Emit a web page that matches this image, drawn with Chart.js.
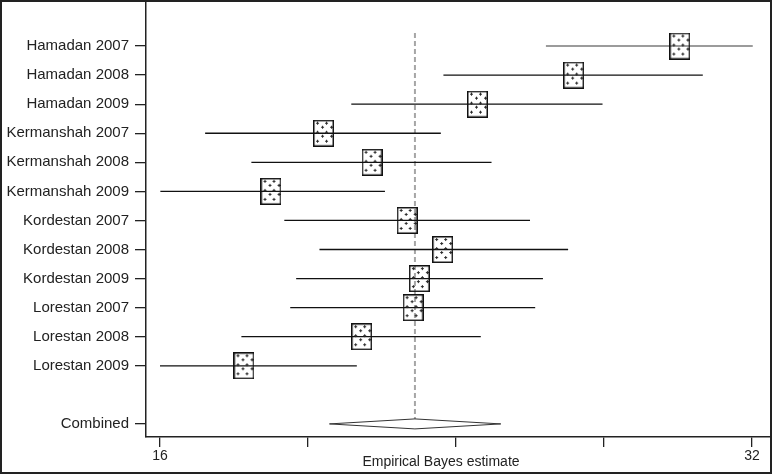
<!DOCTYPE html>
<html><head><meta charset="utf-8">
<script src="https://cdn.jsdelivr.net/npm/chart.js@4.4.1/dist/chart.umd.min.js"></script>
<style>
html,body{margin:0;padding:0;background:#fff;}
#wrap{position:relative;width:772px;height:474px;}
#frame{position:absolute;left:0;top:0;width:772px;height:474px;box-sizing:border-box;border:2px solid #222;pointer-events:none;}
canvas{display:block;}
</style></head><body>
<div id="wrap"><canvas id="c" width="772" height="474"></canvas><div id="frame"></div></div>
<script>
// ---- data ----
const studies = ['Hamadan 2007','Hamadan 2008','Hamadan 2009','Kermanshah 2007','Kermanshah 2008','Kermanshah 2009',
                 'Kordestan 2007','Kordestan 2008','Kordestan 2009','Lorestan 2007','Lorestan 2008','Lorestan 2009'];
const estimates = [30.05, 27.18, 24.58, 20.42, 21.73, 19.00, 22.68, 23.64, 23.01, 22.84, 21.45, 18.27];
const lowerCI   = [26.43, 23.66, 21.17, 17.22, 18.47, 16.01, 19.36, 20.31, 19.68, 19.52, 18.20, 16.00];
const upperCI   = [32.02, 30.67, 27.96, 23.59, 24.96, 22.08, 26.00, 27.03, 26.35, 26.14, 24.67, 21.32];
const combinedLabel = 'Combined';
const combinedEstimate = 22.89;
const combinedLower = 20.58;
const combinedUpper = 25.21;
const xTickValues = [16, 20, 24, 28, 32];
const xTickLabels = ['16', '', '', '', '32'];
const xTitle = 'Empirical Bayes estimate';

// ---- derived ----
const rowPos = studies.map((s, i) => i + 1);
const combinedPos = studies.length + 2;
const yTickValues = [...rowPos, combinedPos];
const yTickLabels = [...studies, combinedLabel];

const FONT = '"Liberation Sans", Arial, Helvetica, sans-serif';

function makeBox(w, h) {
  const c = document.createElement('canvas');
  c.width = w; c.height = h;
  const g = c.getContext('2d');
  g.fillStyle = '#2a2a2a';
  let r = 0;
  for (let y = 3; y < h - 2; y += 4.4, r++) {
    const off = (r % 2) ? 4.5 : 0;
    for (let x = 4 + off; x < w - 2; x += 9) {
      const px = Math.round(x), py = Math.round(y);
      g.fillRect(px - 1, py, 3, 1);
      g.fillRect(px, py - 1, 1, 3);
    }
  }
  g.strokeStyle = '#111';
  g.lineWidth = 1.5;
  g.strokeRect(0.75, 0.75, w - 1.5, h - 1.5);
  return c;
}
const boxImg = makeBox(21, 27);

const datasets = [];
// reference (combined) line
datasets.push({
  type: 'line',
  data: [{x: combinedEstimate, y: 0.55}, {x: combinedEstimate, y: combinedPos}],
  borderColor: '#a6a6a6', borderWidth: 2, borderDash: [5, 3],
  pointRadius: 0, order: 3
});
// CI lines
studies.forEach((s, i) => {
  datasets.push({
    type: 'line',
    data: [{x: lowerCI[i], y: rowPos[i]}, {x: upperCI[i], y: rowPos[i]}],
    borderColor: i === 0 ? '#7a7a7a' : '#111',
    borderWidth: 1.3, pointRadius: 0, order: 2
  });
});
// estimate boxes
datasets.push({
  type: 'scatter',
  data: estimates.map((v, i) => ({x: v, y: rowPos[i]})),
  pointStyle: boxImg, pointRadius: 10, order: 1
});

const diamondPlugin = {
  id: 'diamond',
  afterDatasetsDraw(chart) {
    const {ctx, scales: {x, y}} = chart;
    const cy = y.getPixelForValue(combinedPos);
    const xl = x.getPixelForValue(combinedLower);
    const xc = x.getPixelForValue(combinedEstimate);
    const xr = x.getPixelForValue(combinedUpper);
    const hh = 5;
    ctx.save();
    ctx.beginPath();
    ctx.moveTo(xl, cy); ctx.lineTo(xc, cy - hh); ctx.lineTo(xr, cy); ctx.lineTo(xc, cy + hh); ctx.closePath();
    ctx.fillStyle = '#fff'; ctx.fill();
    ctx.strokeStyle = '#333'; ctx.lineWidth = 1; ctx.stroke();
    ctx.restore();
  }
};
const xTitlePlugin = {
  id: 'xTitle',
  afterDraw(chart) {
    const {ctx, chartArea} = chart;
    ctx.save();
    ctx.font = '14px ' + FONT;
    ctx.fillStyle = '#222';
    ctx.textAlign = 'center';
    ctx.textBaseline = 'middle';
    ctx.fillText(xTitle, (chartArea.left + chartArea.right) / 2 - 17, 462);
    ctx.restore();
  }
};

new Chart(document.getElementById('c'), {
  data: {datasets},
  plugins: [diamondPlugin, xTitlePlugin],
  options: {
    responsive: false, animation: false, events: [],
    layout: {autoPadding: false, padding: {left: 0, top: 3, right: 2, bottom: 0}},
    plugins: {legend: {display: false}, tooltip: {enabled: false}},
    scales: {
      x: {
        type: 'linear', position: 'bottom', min: 15.622, max: 32.486,
        afterBuildTicks: s => { s.ticks = xTickValues.map(v => ({value: v})); },
        ticks: {callback: (v, i) => xTickLabels[i], font: {family: FONT, size: 14}, color: '#222', padding: 1, maxRotation: 0, autoSkip: false},
        grid: {drawOnChartArea: false, tickLength: 10, color: '#222', lineWidth: 1.3},
        border: {color: '#222', width: 1.5},
        afterFit: s => { s.height = 37; s.paddingLeft = 0; s.paddingRight = 0; }
      },
      y: {
        type: 'linear', reverse: true, min: -0.48, max: 14.45,
        afterBuildTicks: s => { s.ticks = yTickValues.map(v => ({value: v})); },
        ticks: {callback: (v, i) => yTickLabels[i], font: {family: FONT, size: 15}, color: '#222', padding: 6, autoSkip: false},
        grid: {drawOnChartArea: false, tickLength: 11, color: '#222', lineWidth: 1.3},
        border: {color: '#222', width: 1.5},
        afterFit: s => { s.width = 146; s.paddingTop = 0; s.paddingBottom = 0; }
      }
    }
  }
});
</script>
</body></html>
